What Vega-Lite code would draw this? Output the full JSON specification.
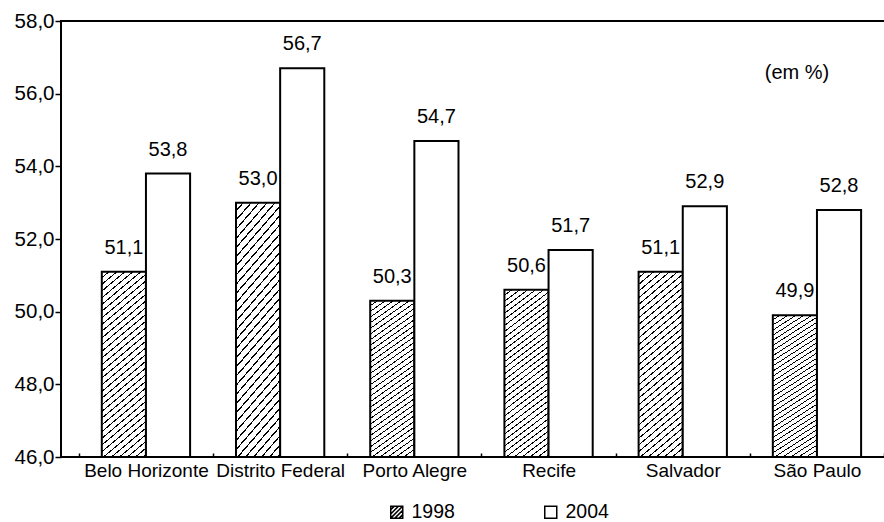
{
  "$schema": "https://vega.github.io/schema/vega-lite/v6.json",
  "width": 824,
  "height": 436,
  "autosize": {"type": "none"},
  "padding": {"left": 61, "top": 21, "right": 0, "bottom": 65},
  "background": "white",
  "title": {
    "text": "Regiões Metropolitanas e Distrito Federal - 1998 e 2004",
    "font": "Liberation Sans",
    "fontSize": 23,
    "fontWeight": "bold",
    "color": "black",
    "anchor": "middle",
    "offset": 11,
    "dx": -28
  },
  "config": {
    "locale": {"number": {"decimal": ",", "thousands": ".", "grouping": [3], "currency": ["R$", ""]}},
    "view": {"stroke": "black", "strokeWidth": 2},
    "font": "Liberation Sans",
    "axis": {
      "labelFont": "Liberation Sans",
      "labelColor": "black",
      "tickColor": "black",
      "grid": false,
      "domain": false,
      "title": null,
      "labelOverlap": false
    }
  },
  "data": {
    "values": [
      {"regiao": "Belo Horizonte", "ano": "1998", "taxa": 51.1},
      {"regiao": "Belo Horizonte", "ano": "2004", "taxa": 53.8},
      {"regiao": "Distrito Federal", "ano": "1998", "taxa": 53.0},
      {"regiao": "Distrito Federal", "ano": "2004", "taxa": 56.7},
      {"regiao": "Porto Alegre", "ano": "1998", "taxa": 50.3},
      {"regiao": "Porto Alegre", "ano": "2004", "taxa": 54.7},
      {"regiao": "Recife", "ano": "1998", "taxa": 50.6},
      {"regiao": "Recife", "ano": "2004", "taxa": 51.7},
      {"regiao": "Salvador", "ano": "1998", "taxa": 51.1},
      {"regiao": "Salvador", "ano": "2004", "taxa": 52.9},
      {"regiao": "São Paulo", "ano": "1998", "taxa": 49.9},
      {"regiao": "São Paulo", "ano": "2004", "taxa": 52.8}
    ]
  },
  "encoding": {
    "x": {
      "field": "regiao",
      "type": "nominal",
      "sort": null,
      "scale": {"paddingInner": 0, "paddingOuter": 0.07, "align": 0.95},
      "axis": {"labelAngle": 0, "labelFontSize": 19, "tickBand": "extent", "tickSize": -4, "tickWidth": 1.5, "labelPadding": 8}
    },
    "y": {
      "field": "taxa",
      "type": "quantitative",
      "scale": {"domain": [46, 58], "zero": false, "nice": false},
      "axis": {"values": [46, 48, 50, 52, 54, 56, 58], "format": ".1f", "labelFontSize": 20.5, "tickSize": 6, "tickWidth": 1.5, "labelPadding": 1}
    }
  },
  "layer": [
    {
      "mark": {"type": "bar", "stroke": "black", "strokeWidth": 2},
      "encoding": {
        "y2": {"datum": 46},
        "xOffset": {"field": "ano", "type": "nominal", "sort": null, "scale": {"paddingInner": 0, "paddingOuter": 0.52}},
        "fill": {
          "condition": {
            "test": "datum.ano === '1998'",
            "value": {
              "gradient": "linear", "x1": 0, "y1": 0, "x2": 0.25, "y2": 1.25,
              "stops": [
                {"offset": 0, "color": "#fff"}, {"offset": 0.0222, "color": "#fff"}, {"offset": 0.0222, "color": "#000"}, {"offset": 0.0278, "color": "#000"},
                {"offset": 0.0278, "color": "#fff"}, {"offset": 0.05, "color": "#fff"}, {"offset": 0.05, "color": "#000"}, {"offset": 0.0556, "color": "#000"},
                {"offset": 0.0556, "color": "#fff"}, {"offset": 0.0778, "color": "#fff"}, {"offset": 0.0778, "color": "#000"}, {"offset": 0.0833, "color": "#000"},
                {"offset": 0.0833, "color": "#fff"}, {"offset": 0.1056, "color": "#fff"}, {"offset": 0.1056, "color": "#000"}, {"offset": 0.1111, "color": "#000"},
                {"offset": 0.1111, "color": "#fff"}, {"offset": 0.1333, "color": "#fff"}, {"offset": 0.1333, "color": "#000"}, {"offset": 0.1389, "color": "#000"},
                {"offset": 0.1389, "color": "#fff"}, {"offset": 0.1611, "color": "#fff"}, {"offset": 0.1611, "color": "#000"}, {"offset": 0.1667, "color": "#000"},
                {"offset": 0.1667, "color": "#fff"}, {"offset": 0.1889, "color": "#fff"}, {"offset": 0.1889, "color": "#000"}, {"offset": 0.1944, "color": "#000"},
                {"offset": 0.1944, "color": "#fff"}, {"offset": 0.2167, "color": "#fff"}, {"offset": 0.2167, "color": "#000"}, {"offset": 0.2222, "color": "#000"},
                {"offset": 0.2222, "color": "#fff"}, {"offset": 0.2444, "color": "#fff"}, {"offset": 0.2444, "color": "#000"}, {"offset": 0.25, "color": "#000"},
                {"offset": 0.25, "color": "#fff"}, {"offset": 0.2722, "color": "#fff"}, {"offset": 0.2722, "color": "#000"}, {"offset": 0.2778, "color": "#000"},
                {"offset": 0.2778, "color": "#fff"}, {"offset": 0.3, "color": "#fff"}, {"offset": 0.3, "color": "#000"}, {"offset": 0.3056, "color": "#000"},
                {"offset": 0.3056, "color": "#fff"}, {"offset": 0.3278, "color": "#fff"}, {"offset": 0.3278, "color": "#000"}, {"offset": 0.3333, "color": "#000"},
                {"offset": 0.3333, "color": "#fff"}, {"offset": 0.3556, "color": "#fff"}, {"offset": 0.3556, "color": "#000"}, {"offset": 0.3611, "color": "#000"},
                {"offset": 0.3611, "color": "#fff"}, {"offset": 0.3833, "color": "#fff"}, {"offset": 0.3833, "color": "#000"}, {"offset": 0.3889, "color": "#000"},
                {"offset": 0.3889, "color": "#fff"}, {"offset": 0.4111, "color": "#fff"}, {"offset": 0.4111, "color": "#000"}, {"offset": 0.4167, "color": "#000"},
                {"offset": 0.4167, "color": "#fff"}, {"offset": 0.4389, "color": "#fff"}, {"offset": 0.4389, "color": "#000"}, {"offset": 0.4444, "color": "#000"},
                {"offset": 0.4444, "color": "#fff"}, {"offset": 0.4667, "color": "#fff"}, {"offset": 0.4667, "color": "#000"}, {"offset": 0.4722, "color": "#000"},
                {"offset": 0.4722, "color": "#fff"}, {"offset": 0.4944, "color": "#fff"}, {"offset": 0.4944, "color": "#000"}, {"offset": 0.5, "color": "#000"},
                {"offset": 0.5, "color": "#fff"}, {"offset": 0.5222, "color": "#fff"}, {"offset": 0.5222, "color": "#000"}, {"offset": 0.5278, "color": "#000"},
                {"offset": 0.5278, "color": "#fff"}, {"offset": 0.55, "color": "#fff"}, {"offset": 0.55, "color": "#000"}, {"offset": 0.5556, "color": "#000"},
                {"offset": 0.5556, "color": "#fff"}, {"offset": 0.5778, "color": "#fff"}, {"offset": 0.5778, "color": "#000"}, {"offset": 0.5833, "color": "#000"},
                {"offset": 0.5833, "color": "#fff"}, {"offset": 0.6056, "color": "#fff"}, {"offset": 0.6056, "color": "#000"}, {"offset": 0.6111, "color": "#000"},
                {"offset": 0.6111, "color": "#fff"}, {"offset": 0.6333, "color": "#fff"}, {"offset": 0.6333, "color": "#000"}, {"offset": 0.6389, "color": "#000"},
                {"offset": 0.6389, "color": "#fff"}, {"offset": 0.6611, "color": "#fff"}, {"offset": 0.6611, "color": "#000"}, {"offset": 0.6667, "color": "#000"},
                {"offset": 0.6667, "color": "#fff"}, {"offset": 0.6889, "color": "#fff"}, {"offset": 0.6889, "color": "#000"}, {"offset": 0.6944, "color": "#000"},
                {"offset": 0.6944, "color": "#fff"}, {"offset": 0.7167, "color": "#fff"}, {"offset": 0.7167, "color": "#000"}, {"offset": 0.7222, "color": "#000"},
                {"offset": 0.7222, "color": "#fff"}, {"offset": 0.7444, "color": "#fff"}, {"offset": 0.7444, "color": "#000"}, {"offset": 0.75, "color": "#000"},
                {"offset": 0.75, "color": "#fff"}, {"offset": 0.7722, "color": "#fff"}, {"offset": 0.7722, "color": "#000"}, {"offset": 0.7778, "color": "#000"},
                {"offset": 0.7778, "color": "#fff"}, {"offset": 0.8, "color": "#fff"}, {"offset": 0.8, "color": "#000"}, {"offset": 0.8056, "color": "#000"},
                {"offset": 0.8056, "color": "#fff"}, {"offset": 0.8278, "color": "#fff"}, {"offset": 0.8278, "color": "#000"}, {"offset": 0.8333, "color": "#000"},
                {"offset": 0.8333, "color": "#fff"}, {"offset": 0.8556, "color": "#fff"}, {"offset": 0.8556, "color": "#000"}, {"offset": 0.8611, "color": "#000"},
                {"offset": 0.8611, "color": "#fff"}, {"offset": 0.8833, "color": "#fff"}, {"offset": 0.8833, "color": "#000"}, {"offset": 0.8889, "color": "#000"},
                {"offset": 0.8889, "color": "#fff"}, {"offset": 0.9111, "color": "#fff"}, {"offset": 0.9111, "color": "#000"}, {"offset": 0.9167, "color": "#000"},
                {"offset": 0.9167, "color": "#fff"}, {"offset": 0.9389, "color": "#fff"}, {"offset": 0.9389, "color": "#000"}, {"offset": 0.9444, "color": "#000"},
                {"offset": 0.9444, "color": "#fff"}, {"offset": 1, "color": "#fff"}
              ]
            }
          },
          "value": "white"
        }
      }
    },
    {
      "mark": {"type": "point", "opacity": 0, "filled": false, "color": "black"},
      "encoding": {
        "xOffset": {"field": "ano", "type": "nominal", "sort": null},
        "shape": {
          "field": "ano",
          "type": "nominal",
          "scale": {
            "domain": ["1998", "2004"],
            "range": [
              "M-1,-1H1V1H-1Z M-1,-0.4L-0.4,-1 M-1,0.3L0.3,-1 M-1,1L1,-1 M-0.3,1L1,-0.3 M0.4,1L1,0.4",
              "square"
            ]
          },
          "legend": {
            "orient": "none",
            "legendX": 326,
            "legendY": 481,
            "direction": "horizontal",
            "title": null,
            "labelFont": "Liberation Sans",
            "labelFontSize": 19.5,
            "labelColor": "black",
            "symbolSize": 144,
            "symbolOpacity": 1,
            "symbolStrokeColor": "black",
            "symbolFillColor": "white",
            "symbolStrokeWidth": 1.5,
            "labelOffset": 5,
            "columnPadding": 86
          }
        }
      }
    },
    {
      "mark": {"type": "text", "dy": -24, "fontSize": 20, "font": "Liberation Sans", "color": "black"},
      "encoding": {
        "xOffset": {"field": "ano", "type": "nominal", "sort": null},
        "text": {"field": "taxa", "type": "quantitative", "format": ".1f"}
      }
    },
    {
      "data": {"values": [{"nota": "(em %)", "regiao": "São Paulo", "taxa": 56.57}]},
      "mark": {"type": "text", "dx": -20, "fontSize": 20, "font": "Liberation Sans", "color": "black"},
      "encoding": {
        "text": {"field": "nota", "type": "nominal"}
      }
    }
  ]
}
